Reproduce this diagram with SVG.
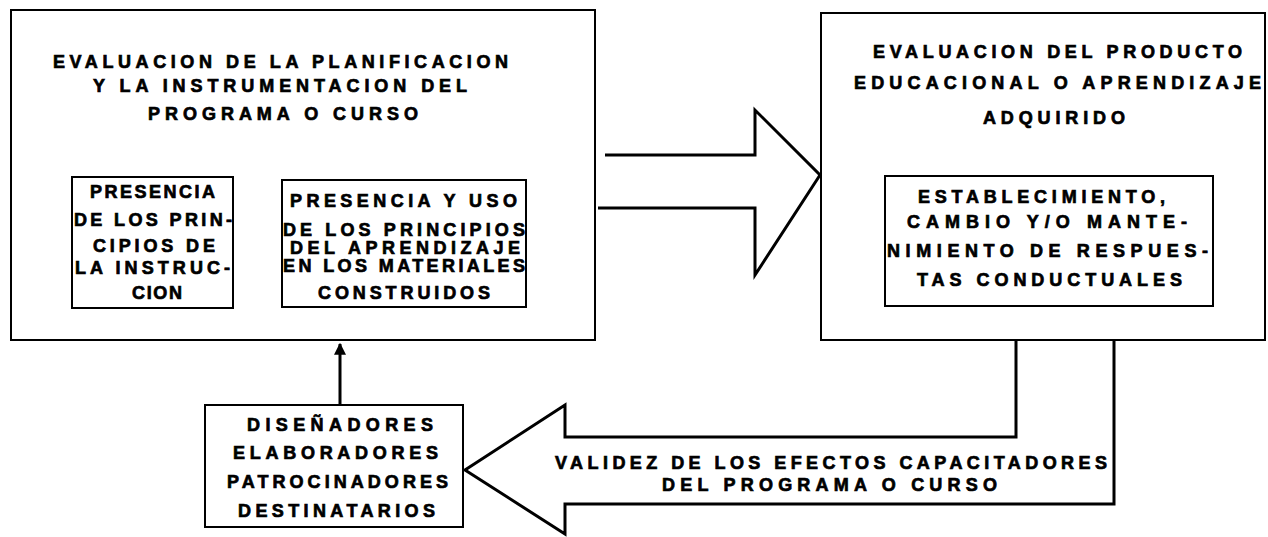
<svg xmlns="http://www.w3.org/2000/svg" width="1268" height="537" viewBox="0 0 1268 537">
<style>
.box{fill:#fff;stroke:#000;stroke-width:2}
.inner{fill:none;stroke:#000;stroke-width:2}
.t{font-family:"Liberation Sans",Arial,sans-serif;font-weight:bold;font-size:18px;fill:#000;stroke:#000;stroke-width:0.7}
.conn{fill:none;stroke:#000;stroke-width:3;stroke-linejoin:miter}
</style>
<defs>
<marker id="ah" viewBox="0 0 10 10" refX="9" refY="5" markerWidth="4" markerHeight="4" orient="auto">
<path d="M0,0 L10,5 L0,10 z" fill="#000"/>
</marker>
</defs>
<rect width="1268" height="537" fill="#fff"/>

<g id="planificacion">
<rect class="box" x="11" y="10" width="584" height="330"/>
<text class="t" x="53" y="68" textLength="455" lengthAdjust="spacing">EVALUACION DE LA PLANIFICACION</text>
<text class="t" x="93" y="92" textLength="374" lengthAdjust="spacing">Y LA INSTRUMENTACION DEL</text>
<text class="t" x="148" y="120" textLength="270" lengthAdjust="spacing">PROGRAMA O CURSO</text>
</g>

<g id="principios-instruccion">
<rect class="inner" x="72" y="177" width="161" height="131"/>
<text class="t" x="90" y="198" textLength="125" lengthAdjust="spacing">PRESENCIA</text>
<text class="t" x="74" y="226" textLength="158" lengthAdjust="spacing">DE LOS PRIN-</text>
<text class="t" x="93" y="252" textLength="122" lengthAdjust="spacing">CIPIOS DE</text>
<text class="t" x="75" y="274" textLength="155" lengthAdjust="spacing">LA INSTRUC-</text>
<text class="t" x="132" y="299" textLength="50" lengthAdjust="spacing">CION</text>
</g>

<g id="principios-aprendizaje">
<rect class="inner" x="282" y="180" width="244" height="127"/>
<text class="t" x="290" y="207" textLength="227" lengthAdjust="spacing">PRESENCIA Y USO</text>
<text class="t" x="283" y="236" textLength="242" lengthAdjust="spacing">DE LOS PRINCIPIOS</text>
<text class="t" x="290" y="254" textLength="230" lengthAdjust="spacing">DEL APRENDIZAJE</text>
<text class="t" x="283" y="272" textLength="242" lengthAdjust="spacing">EN LOS MATERIALES</text>
<text class="t" x="318" y="299" textLength="172" lengthAdjust="spacing">CONSTRUIDOS</text>
</g>

<g id="producto">
<rect class="box" x="821" y="13" width="444" height="327"/>
<text class="t" x="873" y="58" textLength="369" lengthAdjust="spacing">EVALUACION DEL PRODUCTO</text>
<text class="t" x="854" y="89" textLength="407" lengthAdjust="spacing">EDUCACIONAL O APRENDIZAJE</text>
<text class="t" x="983" y="124" textLength="142" lengthAdjust="spacing">ADQUIRIDO</text>
</g>

<g id="respuestas">
<rect class="inner" x="885" y="176" width="328" height="130"/>
<text class="t" x="918" y="203" textLength="247" lengthAdjust="spacing">ESTABLECIMIENTO,</text>
<text class="t" x="907" y="228" textLength="280" lengthAdjust="spacing">CAMBIO Y/O MANTE-</text>
<text class="t" x="887" y="257" textLength="321" lengthAdjust="spacing">NIMIENTO DE RESPUES-</text>
<text class="t" x="917" y="286" textLength="265" lengthAdjust="spacing">TAS CONDUCTUALES</text>
</g>

<g id="destinatarios">
<rect class="box" x="205" y="405" width="258" height="122"/>
<text class="t" x="247" y="431" textLength="186" lengthAdjust="spacing">DISEÑADORES</text>
<text class="t" x="233" y="459" textLength="205" lengthAdjust="spacing">ELABORADORES</text>
<text class="t" x="227" y="488" textLength="221" lengthAdjust="spacing">PATROCINADORES</text>
<text class="t" x="238" y="517" textLength="197" lengthAdjust="spacing">DESTINATARIOS</text>
</g>

<g id="connectors">
<path class="conn" d="M605,155 H755 V110 L820,175 L755,275 V208 H598"/>
<path class="conn" d="M1016,341 V437 H565 V405 L465,470 L565,534 V504 H1114 V341"/>
<line class="conn" x1="340" y1="404" x2="340" y2="344" marker-end="url(#ah)"/>
<text class="t" x="555" y="469" textLength="552" lengthAdjust="spacing">VALIDEZ DE LOS EFECTOS CAPACITADORES</text>
<text class="t" x="662" y="491" textLength="335" lengthAdjust="spacing">DEL PROGRAMA O CURSO</text>
</g>
</svg>
